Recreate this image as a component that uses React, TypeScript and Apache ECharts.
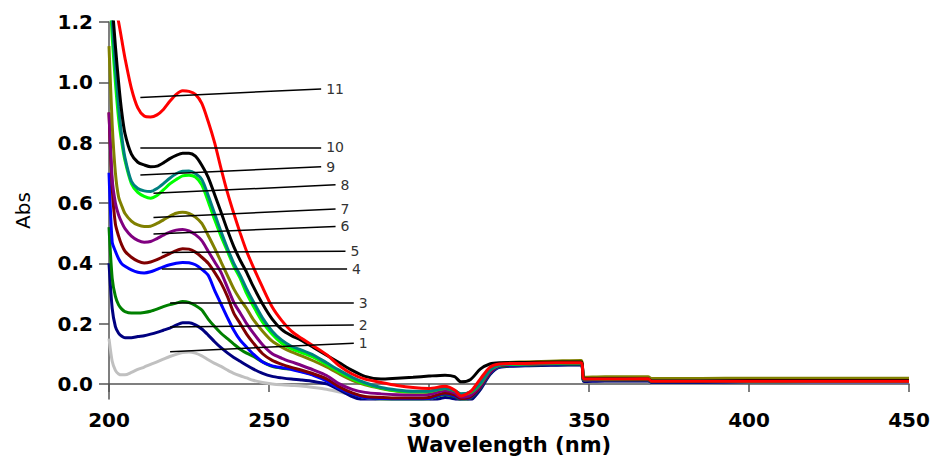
import React, { useEffect, useRef } from "react";
import * as echarts from "echarts";

// Wavelength grid (nm) shared by all spectra
const wavelengths = [
  200, 201, 202, 203, 204, 205, 207, 209, 211, 213, 215, 217, 219, 221, 223, 225, 227, 229,
  231, 233, 235, 237, 239, 241, 243, 245, 248, 251, 254, 257, 260, 264, 268, 272, 276, 280,
  285, 290, 295, 300, 305, 308, 310, 313, 316, 319, 322, 330, 340, 347.5, 348.5, 355, 368.5,
  369.5, 385, 400, 420, 450,
];

const seriesNames = ["1", "2", "3", "4", "5", "6", "7", "8", "9", "10", "11"];
const seriesColors = [
  "#c0c0c0", "#000080", "#008000", "#0000ff", "#800000", "#800080",
  "#808000", "#00ff00", "#008080", "#000000", "#ff0000",
];

const abs1 = [
  0.15, 0.075, 0.045, 0.033, 0.03, 0.03, 0.038, 0.048, 0.056, 0.065, 0.073, 0.082, 0.091, 0.098, 0.104, 0.106, 0.102, 0.093,
  0.08, 0.068, 0.058, 0.046, 0.035, 0.027, 0.02, 0.012, 0.005, 0.0, -0.003, -0.005, -0.007, -0.012, -0.018, -0.027, -0.037, -0.045,
  -0.05, -0.055, -0.056, -0.055, -0.04, -0.047, -0.058, -0.052, -0.018, 0.032, 0.056, 0.06, 0.062, 0.063, 0.008, 0.009, 0.009,
  0.004, 0.004, 0.005, 0.005, 0.005,
];
const abs2 = [
  0.4, 0.25, 0.19, 0.168, 0.158, 0.153, 0.153, 0.157, 0.16, 0.165, 0.171, 0.178, 0.185, 0.195, 0.203, 0.203, 0.196, 0.182,
  0.162, 0.14, 0.12, 0.103, 0.088, 0.075, 0.062, 0.05, 0.035, 0.025, 0.02, 0.016, 0.013, 0.008, 0.0, -0.02, -0.042, -0.055,
  -0.06, -0.062, -0.062, -0.06, -0.045, -0.05, -0.06, -0.055, -0.02, 0.03, 0.055, 0.06, 0.062, 0.063, 0.008, 0.01, 0.01,
  0.005, 0.005, 0.006, 0.006, 0.006,
];
const abs3 = [
  0.52, 0.35, 0.29, 0.262, 0.248, 0.24, 0.235, 0.235, 0.237, 0.241, 0.248, 0.256, 0.263, 0.268, 0.273, 0.27, 0.26, 0.245,
  0.215, 0.19, 0.168, 0.15, 0.132, 0.115, 0.102, 0.092, 0.073, 0.058, 0.052, 0.049, 0.042, 0.03, 0.012, -0.015, -0.033, -0.045,
  -0.05, -0.052, -0.052, -0.05, -0.035, -0.042, -0.052, -0.047, -0.014, 0.034, 0.057, 0.062, 0.065, 0.066, 0.011, 0.012, 0.012,
  0.007, 0.007, 0.007, 0.008, 0.008,
];
const abs4 = [
  0.7, 0.47, 0.44, 0.415, 0.398, 0.39, 0.378, 0.37, 0.368, 0.372, 0.38, 0.388, 0.395, 0.4, 0.403, 0.402, 0.395, 0.38,
  0.36, 0.31, 0.265, 0.22, 0.178, 0.145, 0.122, 0.1, 0.073, 0.06, 0.054, 0.048, 0.04, 0.028, 0.01, -0.015, -0.033, -0.045,
  -0.048, -0.05, -0.05, -0.048, -0.033, -0.04, -0.05, -0.045, -0.012, 0.035, 0.058, 0.063, 0.066, 0.067, 0.012, 0.013, 0.013,
  0.007, 0.007, 0.008, 0.008, 0.008,
];
const abs5 = [
  0.9, 0.65, 0.53, 0.49, 0.46, 0.44, 0.42, 0.407, 0.401, 0.404, 0.412, 0.422, 0.432, 0.442, 0.448, 0.447, 0.437, 0.42,
  0.4, 0.37, 0.335, 0.29, 0.235, 0.2, 0.165, 0.137, 0.1, 0.078, 0.065, 0.055, 0.046, 0.033, 0.017, -0.01, -0.03, -0.042,
  -0.045, -0.047, -0.047, -0.045, -0.03, -0.036, -0.048, -0.042, -0.01, 0.037, 0.06, 0.065, 0.068, 0.069, 0.013, 0.014, 0.014,
  0.008, 0.008, 0.009, 0.009, 0.009,
];
const abs6 = [
  0.9, 0.68, 0.6, 0.56, 0.535, 0.515, 0.49, 0.476, 0.47, 0.472, 0.482, 0.493, 0.503, 0.51, 0.512, 0.507, 0.495, 0.475,
  0.44, 0.405, 0.37, 0.32, 0.27, 0.235, 0.2, 0.17, 0.13, 0.1, 0.085, 0.073, 0.062, 0.046, 0.028, 0.0, -0.018, -0.028,
  -0.033, -0.036, -0.037, -0.035, -0.022, -0.03, -0.043, -0.037, -0.006, 0.04, 0.062, 0.066, 0.069, 0.07, 0.014, 0.015, 0.015,
  0.009, 0.009, 0.009, 0.01, 0.01,
];
const abs7 = [
  1.12, 0.86, 0.7, 0.62, 0.59, 0.565, 0.54, 0.527, 0.522, 0.523, 0.532, 0.544, 0.556, 0.566, 0.569, 0.565, 0.553, 0.532,
  0.492, 0.45, 0.405, 0.36, 0.315, 0.28, 0.25, 0.215, 0.175, 0.142, 0.122, 0.106, 0.094, 0.076, 0.056, 0.033, 0.012, -0.003,
  -0.015, -0.024, -0.027, -0.026, -0.014, -0.022, -0.034, -0.027, 0.004, 0.05, 0.068, 0.073, 0.076, 0.078, 0.022, 0.024, 0.024,
  0.018, 0.018, 0.019, 0.019, 0.019,
];
const abs8 = [
  1.35, 1.15, 1.0, 0.88, 0.8, 0.74, 0.664, 0.635, 0.622, 0.616, 0.625, 0.643, 0.663, 0.678, 0.69, 0.692, 0.686, 0.66,
  0.605, 0.545, 0.49, 0.44, 0.39, 0.35, 0.3, 0.26, 0.205, 0.165, 0.135, 0.117, 0.105, 0.088, 0.064, 0.04, 0.017, 0.0,
  -0.014, -0.023, -0.026, -0.025, -0.015, -0.022, -0.035, -0.028, 0.0, 0.045, 0.062, 0.066, 0.068, 0.069, 0.014, 0.015, 0.015,
  0.009, 0.009, 0.01, 0.01, 0.01,
];
const abs9 = [
  1.38, 1.2, 1.05, 0.92, 0.82, 0.75, 0.672, 0.648, 0.64, 0.638, 0.648, 0.664, 0.682, 0.697, 0.705, 0.706, 0.698, 0.678,
  0.625, 0.565, 0.505, 0.45, 0.4, 0.36, 0.315, 0.275, 0.218, 0.175, 0.145, 0.125, 0.113, 0.095, 0.07, 0.045, 0.022, 0.004,
  -0.012, -0.02, -0.024, -0.024, -0.014, -0.022, -0.033, -0.026, 0.002, 0.046, 0.063, 0.067, 0.069, 0.07, 0.015, 0.016, 0.016,
  0.01, 0.01, 0.011, 0.011, 0.011,
];
const abs10 = [
  1.4, 1.26, 1.12, 1.0, 0.9, 0.83, 0.762, 0.735, 0.726, 0.72, 0.722, 0.733, 0.747, 0.758, 0.765, 0.765, 0.755, 0.725,
  0.685, 0.628, 0.57, 0.51, 0.455, 0.41, 0.37, 0.325, 0.265, 0.215, 0.18, 0.16, 0.145, 0.12, 0.095, 0.07, 0.045, 0.025,
  0.016, 0.019, 0.022, 0.026, 0.029, 0.024, 0.007, 0.015, 0.049, 0.066, 0.07, 0.071, 0.073, 0.073, 0.017, 0.017, 0.016,
  0.01, 0.01, 0.011, 0.011, 0.011,
];
const abs11 = [
  1.37, 1.31, 1.25, 1.2, 1.14, 1.08, 0.98, 0.915, 0.888, 0.885, 0.892, 0.91, 0.937, 0.96, 0.972, 0.97, 0.96, 0.93,
  0.87, 0.8, 0.715, 0.635, 0.565, 0.5, 0.44, 0.39, 0.32, 0.255, 0.21, 0.175, 0.152, 0.125, 0.097, 0.06, 0.033, 0.016,
  0.005, -0.005, -0.012, -0.015, -0.008, -0.02, -0.04, -0.025, 0.016, 0.055, 0.066, 0.068, 0.07, 0.07, 0.016, 0.016, 0.017,
  0.009, 0.009, 0.009, 0.009, 0.009,
];
const absorbances = [abs1, abs2, abs3, abs4, abs5, abs6, abs7, abs8, abs9, abs10, abs11];

// Leader lines for the curve numbers (data coordinates)
const annoStartX = [219.1, 219.1, 219.1, 216.5, 216.5, 213.9, 213.9, 213.9, 209.8, 209.8, 209.8];
const annoStartY = [0.107, 0.189, 0.268, 0.382, 0.436, 0.497, 0.552, 0.632, 0.693, 0.784, 0.95];
const annoEndX = [276.5, 276.5, 276.5, 274.4, 273.9, 270.8, 270.8, 270.8, 266.3, 266.3, 266.3];
const annoEndY = [0.135, 0.195, 0.268, 0.382, 0.44, 0.522, 0.58, 0.66, 0.72, 0.784, 0.978];

const yTicks = [0, 0.2, 0.4, 0.6, 0.8, 1.0, 1.2];

export default function App() {
  const ref = useRef<HTMLDivElement>(null);
  useEffect(() => {
    if (!ref.current) return;
    const chart = echarts.init(ref.current, null, { renderer: "svg" });
    const lineSeries = absorbances.map((vals, i) => ({
      name: seriesNames[i],
      type: "line",
      data: wavelengths.map((w, j) => [w, vals[j]]),
      showSymbol: false,
      smooth: 0.25,
      clip: true,
      silent: true,
      lineStyle: { color: seriesColors[i], width: 3 },
      itemStyle: { color: seriesColors[i] },
      z: 2 + i * 0.01,
    }));
    const annoSeries = {
      type: "line",
      data: [],
      silent: true,
      z: 5,
      markLine: {
        silent: true,
        symbol: ["none", "none"],
        animation: false,
        lineStyle: { color: "#000", width: 1.5, type: "solid" },
        label: {
          show: true,
          position: "end",
          formatter: "{b}",
          distance: 5,
          color: "#333",
          fontSize: 14,
          fontFamily: "DejaVu Sans",
        },
        emphasis: { disabled: true },
        data: seriesNames.map((n, i) => [
          { name: n, coord: [annoStartX[i], annoStartY[i]] },
          { coord: [annoEndX[i], annoEndY[i]] },
        ]),
      },
    };
    chart.setOption({
      animation: false,
      backgroundColor: "#fff",
      grid: {
        left: 109,
        right: 22,
        top: 22,
        bottom: 58,
        containLabel: false,
        outerBoundsMode: "none",
      },
      xAxis: {
        type: "value",
        min: 200,
        max: 450,
        interval: 50,
        name: "Wavelength (nm)",
        nameLocation: "middle",
        nameGap: 30,
        nameTextStyle: { fontFamily: "DejaVu Sans", fontWeight: "bold", fontSize: 21, color: "#000" },
        axisLine: { show: true, lineStyle: { color: "#555", width: 1.5 } },
        axisTick: { show: true, length: 8, lineStyle: { color: "#555", width: 1.5 } },
        axisLabel: { fontFamily: "DejaVu Sans", fontWeight: "bold", fontSize: 20, color: "#000", margin: 11 },
        splitLine: { show: false },
      },
      yAxis: {
        type: "value",
        min: -0.05,
        max: 1.2,
        name: "Abs",
        nameLocation: "middle",
        nameGap: 76,
        nameTextStyle: { fontFamily: "DejaVu Sans", fontSize: 20, color: "#000" },
        axisLine: { show: true, onZero: false, lineStyle: { color: "#555", width: 1.5 } },
        axisTick: { show: true, length: 10, customValues: yTicks, lineStyle: { color: "#555", width: 1.5 } },
        axisLabel: {
          customValues: yTicks,
          formatter: (v: number) => v.toFixed(1),
          fontFamily: "DejaVu Sans",
          fontWeight: "bold",
          fontSize: 20,
          color: "#000",
          margin: 16,
        },
        splitLine: { show: false },
      },
      series: [...lineSeries, annoSeries],
    });
    return () => chart.dispose();
  }, []);
  return (
    <div
      ref={ref}
      style={{ position: "absolute", left: 0, top: 0, width: 931, height: 457, background: "#fff" }}
    />
  );
}
